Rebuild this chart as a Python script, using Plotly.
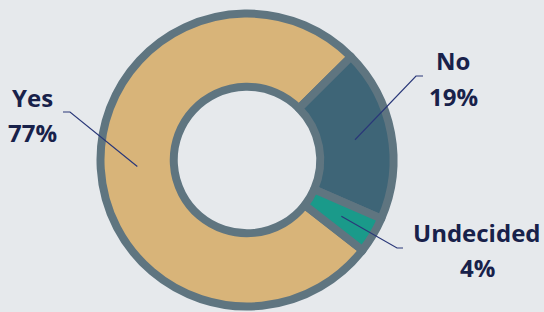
import math
import plotly.graph_objects as go

categories = ["Yes", "No", "Undecided"]
values = [77, 19, 4]
colors = ["#d8b479", "#3e6577", "#1a9a8a"]

W, H = 544, 312
BG = "#e6e9ec"
BORDER = "#5f7580"
TEXT = "#18214a"
LEADER = "#2a3879"

# pie geometry (pixels)
cx, cy = 247, 160
r_out = 146.5
hole = 0.5
rotation = 128  # start of first slice, degrees clockwise from 12 o'clock

fig = go.Figure(go.Pie(
    labels=categories, values=values, sort=False, direction="clockwise",
    rotation=rotation, hole=hole,
    marker=dict(colors=colors, line=dict(color=BORDER, width=8)),
    textinfo="none", hoverinfo="label+percent", showlegend=False,
    domain=dict(x=[(cx - r_out) / W, (cx + r_out) / W],
                y=[1 - (cy + r_out) / H, 1 - (cy - r_out) / H]),
))

def px(x, y):
    return x / W, 1 - y / H

# label layout: (text centre x, first line y, elbow start x, elbow end x, elbow y)
label_pos = {
    "Yes": (32, 97, 63, 70, 112),
    "No": (453, 61, 423, 416, 76),
    "Undecided": (477, 232, 403, 397, 248),
}

total = sum(values)
cum = 0
r_mid = (r_out + r_out * hole) / 2
for cat, v in zip(categories, values):
    mid = rotation + (cum + v / 2) / total * 360
    cum += v
    a = math.radians(mid)
    mx, my = cx + r_mid * math.sin(a), cy - r_mid * math.cos(a)
    tx, ty, ex0, ex1, ey = label_pos[cat]
    x0, y0 = px(ex0, ey)
    x1, y1 = px(ex1, ey)
    x2, y2 = px(mx, my)
    fig.add_shape(type="path", xref="paper", yref="paper",
                  path=f"M {x0} {y0} L {x1} {y1} L {x2} {y2}",
                  line=dict(color=LEADER, width=1.2))
    pct = f"{round(v / total * 100)}%"
    for i, t in enumerate([cat, pct]):
        ax, ay = px(tx, ty + 35 * i)
        fig.add_annotation(x=ax, y=ay, xref="paper", yref="paper", text=f"<b>{t}</b>",
                           showarrow=False, xanchor="center", yanchor="middle",
                           font=dict(family="Open Sans", size=24, color=TEXT))

fig.update_layout(width=W, height=H, margin=dict(l=0, r=0, t=0, b=0),
                  paper_bgcolor=BG, plot_bgcolor=BG)
fig.write_html("out.html", config={"displayModeBar": False},
               post_script="document.body.style.margin='0';document.body.style.overflow='hidden';")
